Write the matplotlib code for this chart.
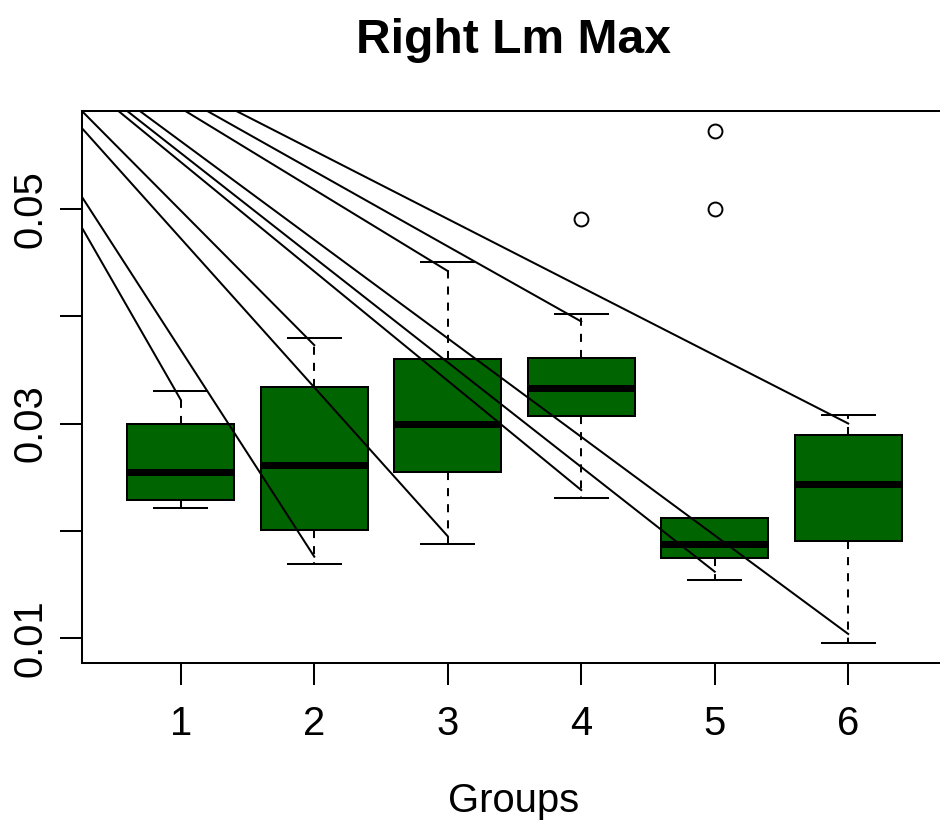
import matplotlib
matplotlib.use("Agg")
import matplotlib.pyplot as plt
import numpy as np

plt.rcParams['font.family'] = ['Liberation Sans', 'DejaVu Sans']

groups = [1, 2, 3, 4, 5, 6]
whislo = [0.0221, 0.0169, 0.0188, 0.0231, 0.0154, 0.0096]
q1 = [0.0229, 0.0201, 0.0255, 0.0307, 0.0175, 0.0191]
med = [0.0255, 0.0261, 0.0300, 0.0333, 0.0188, 0.0244]
q3 = [0.0300, 0.0334, 0.0360, 0.0361, 0.0212, 0.0289]
whishi = [0.0330, 0.0380, 0.0450, 0.0402, 0.0212, 0.0308]
fliers = [[], [], [], [0.0490], [0.0572, 0.0500], []]

# guide lines drawn from one off-plot point to the whisker ends
line_from = (-0.93, 0.074)
line_group = [1, 2, 2, 3, 3, 4, 4, 5, 6, 6]
line_end = [0.0322, 0.0373, 0.0176, 0.0442, 0.0195, 0.0395, 0.0238, 0.0162, 0.0300, 0.0104]

yticks = [0.01, 0.02, 0.03, 0.04, 0.05]
ylabels = ["0.01", "", "0.03", "", "0.05"]

fig = plt.figure(figsize=(9.4, 8.21), dpi=100)
ax = fig.add_axes([82 / 940, 1 - 663 / 821, 865 / 940, 552 / 821])

stats = []
for i in range(len(groups)):
    stats.append(dict(whislo=whislo[i], q1=q1[i], med=med[i], q3=q3[i],
                      whishi=whishi[i], fliers=fliers[i]))

lw = 1.45
ax.bxp(stats, positions=groups, widths=0.8, capwidths=0.4, patch_artist=True,
       boxprops=dict(facecolor='#006400', edgecolor='black', linewidth=lw),
       medianprops=dict(color='black', linewidth=5, solid_capstyle='butt'),
       whiskerprops=dict(color='black', linewidth=lw, linestyle=(0, (4, 4))),
       capprops=dict(color='black', linewidth=lw),
       flierprops=dict(marker='o', markerfacecolor='none', markeredgecolor='black',
                       markersize=10, markeredgewidth=1.4),
       zorder=2)

for g, v in zip(line_group, line_end):
    ax.plot([line_from[0], g], [line_from[1], v], color='black', lw=lw, zorder=3)

allv = whislo + whishi + [f for fl in fliers for f in fl]
lo, hi = min(allv), max(allv)
r = hi - lo
ax.set_xlim(0.26, 6.74)
ax.set_ylim(lo - 0.04 * r, hi + 0.04 * r)

ax.set_xticks(groups)
ax.set_xticklabels([str(g) for g in groups])
ax.set_yticks(yticks)
ax.set_yticklabels(ylabels, rotation=90, va='center')
ax.tick_params(axis='both', length=15.5, width=lw, labelsize=28.8, color='black')
ax.tick_params(axis='x', pad=15)
ax.tick_params(axis='y', pad=8)
for s in ax.spines.values():
    s.set_linewidth(lw)

fig.text(514 / 940, 1 - 53 / 821, "Right Lm Max", ha='center', va='baseline',
         fontsize=34.6, fontweight='bold')
fig.text(514 / 940, 1 - 812 / 821, "Groups", ha='center', va='baseline',
         fontsize=28.8)

fig.savefig("out.png", dpi=100)
